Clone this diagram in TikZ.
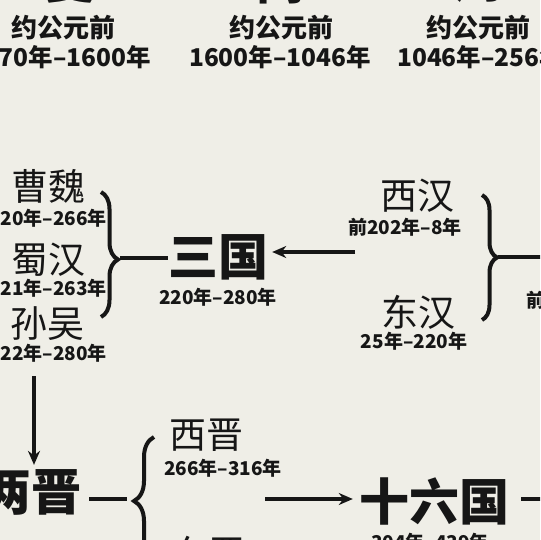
\documentclass[tikz,border=0pt]{standalone}
\usepackage{fontspec}
\setmainfont{Noto Sans CJK SC}
\usepackage{xcolor}
\definecolor{paper}{HTML}{EFEEE7}
\definecolor{ink}{HTML}{161616}
\usetikzlibrary{arrows.meta,decorations.pathreplacing}

\begin{document}
\begin{tikzpicture}[
  x=1pt, y=-1pt,
  every node/.style={inner sep=0pt, text=ink},
  huge/.style={font=\fontsize{50}{50}\selectfont\bfseries},
  dynasty/.style={font=\fontsize{37}{37}\selectfont},
  bce/.style={font=\fontsize{26}{26}\selectfont\bfseries},
  years/.style={font=\fontsize{19}{19}\selectfont\bfseries},
  topyears/.style={font=\fontsize{24.5}{25}\selectfont\bfseries},
  bracket/.style={decorate, decoration={brace, amplitude=#1}, line width=4pt, color=ink},
  link/.style={line width=4pt, color=ink},
  arrowline/.style={-{Stealth[length=14pt, width=12pt]}, line width=3.5pt, color=ink}
]

% frame of the cut-out
\useasboundingbox (0,0) rectangle (540,540);
\fill[paper] (0,0) rectangle (540,540);
\clip (0,0) rectangle (540,540);

% Xia, Shang, Zhou (top row)
\node[huge] (xia) at (70,-20) {夏};
\node[huge] (shang) at (280,-20) {商};
\node[huge] (zhou) at (478,-20) {周};
\node[bce] (xiabce) at (63,28) {约公元前};
\node[bce] (shangbce) at (281,28) {约公元前};
\node[bce] (zhoubce) at (478,28) {约公元前};
\node[topyears] (xiayears) at (60,57) {2070年–1600年};
\node[topyears] (shangyears) at (280,57) {1600年–1046年};
\node[topyears, anchor=west] (zhouyears) at (397,57) {1046年–256年};

% three kingdoms
\node[dynasty] (caowei) at (48,186) {曹魏};
\node[years] (caoweiyears) at (48,218) {220年–266年};
\node[dynasty] (shuhan) at (48,260) {蜀汉};
\node[years] (shuhanyears) at (48,288) {221年–263年};
\node[dynasty] (sunwu) at (47,324) {孙吴};
\node[years] (sunwuyears) at (48,353) {222年–280年};
\draw[bracket=17pt, decoration={aspect=0.54}] (101,192) coordinate (wei3top) -- (101,317) coordinate (wei3bot);
\coordinate (wei3tip) at (120,258);

\node[huge] (sanguo) at (218,257) {三国};
\node[years] (sanguoyears) at (218,297) {220年–280年};
\draw[link] (wei3tip) -- (wei3tip -| sanguo.west);

% Han
\node[dynasty] (xihan) at (417,196) {西汉};
\node[years] (xihanyears) at (405,227) {前202年–8年};
\node[dynasty] (donghan) at (418,312) {东汉};
\node[years] (donghanyears) at (414,341) {25年–220年};
\draw[bracket=15pt] (482,195) -- (482,320);
\coordinate (hantip) at (498,257);
\coordinate (hanout) at (545,257);
\draw[link] (hantip) -- (hanout);
\node[years, anchor=west] (hanyears) at (526,300) {前202年–220年};
\coordinate (hanarrow) at (355,252);
\draw[arrowline, shorten >=4pt] (hanarrow) -- (hanarrow -| sanguo.east);

% Jin
\coordinate (sunwuend) at (34,376);
\node[huge] (liangjin) at (32,492) {两晋};
\draw[arrowline, shorten >=4pt] (sunwuend) -- (sunwuend |- liangjin.north);
\draw[bracket=20pt] (154,565) -- (154,437);
\coordinate (jintip) at (133,499);
\draw[link, shorten <=7pt, shorten >=6pt] (liangjin.east |- jintip) -- (jintip);
\node[dynasty] (xijin) at (206,435) {西晋};
\node[years] (xijinyears) at (223,468) {266年–316年};
\node[dynasty] (dongjin) at (208,553) {东晋};

% Sixteen Kingdoms
\node[huge] (shiliuguo) at (434,501) {十六国};
\node[years] (shiliuguoyears) at (430,542) {304年–439年};
\coordinate (jinarrow) at (265,499);
\draw[arrowline, shorten >=6pt] (jinarrow) -- (jinarrow -| shiliuguo.west);
\coordinate (shiliuout) at (545,499);
\draw[link, shorten <=12pt] (shiliuguo.east |- shiliuout) -- (shiliuout);

\end{tikzpicture}
\end{document}
